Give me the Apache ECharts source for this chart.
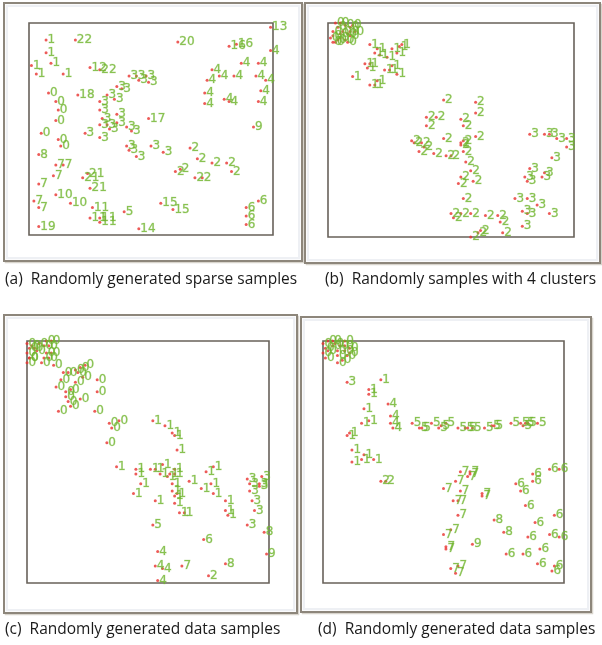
<!DOCTYPE html>
<html><head><meta charset="utf-8">
<script src="https://cdn.jsdelivr.net/npm/echarts@6/dist/echarts.min.js"></script>
<style>html,body{margin:0;padding:0;background:#fff}#c{width:602px;height:645px}</style>
</head><body><div id="c"></div>
<script>
// Panel (a): [x, y, cluster label]
const panelA = [
 [7,92,'1'],[7,86,'1'],[1,80,'1'],[9,81,'1'],[3,76,'1'],[14,76,'1'],
 [19,92,'22'],[25,79,'12'],[29,78,'22'],[61,91,'20'],[99,98,'13'],[82,89,'16'],[85,90,'16'],
 [99,87,'4'],[75,78,'4'],[87,81,'4'],[94,81,'4'],[73,73,'4'],[78,75,'4'],[84,75,'4'],[93,75,'4'],[97,73,'4'],
 [72,67,'4'],[95,68,'4'],[72,62,'4'],[80,64,'4'],[82,63,'4'],[94,63,'4'],
 [92,51,'9'],
 [8,67,'0'],[11,63,'0'],[12,59,'0'],[11,54,'0'],[5,48,'0'],[12,45,'0'],[13,42,'0'],
 [20,66,'18'],[49,55,'17'],[4,38,'8'],
 [11,33,'7'],[14,33,'7'],[10,28,'7'],[4,24,'7'],[2,16,'7'],[4,13,'7'],
 [11,19,'10'],[17,15,'10'],[24,29,'21'],[22,27,'21'],[25,22,'21'],
 [26,13,'11'],[25,8,'11'],[29,8,'11'],[29,6,'11'],
 [39,11,'5'],[54,15,'15'],[59,12,'15'],[45,3,'14'],[4,4,'19'],
 [89,13,'6'],[94,16,'6'],[89,9,'6'],[89,5,'6'],
 [41,75,'3'],[44,75,'3'],[45,73,'3'],[48,75,'3'],[49,72,'3'],[36,70,'3'],[38,69,'3'],[32,66,'3'],[35,64,'3'],
 [29,63,'3'],[29,59,'3'],[36,57,'3'],[30,55,'3'],[29,52,'3'],[32,52,'3'],[33,50,'3'],[36,53,'3'],[40,51,'3'],
 [42,49,'3'],[23,48,'3'],[29,46,'3'],[40,42,'3'],[41,40,'3'],[44,37,'3'],[50,42,'3'],[55,39,'3'],
 [66,41,'2'],[69,36,'2'],[75,34,'2'],[81,34,'2'],[83,30,'2'],[60,30,'2'],[62,31,'2'],[68,27,'2'],[71,27,'2']
];
// Panel (b)
const panelB = [
 [1,93,'0'],[2,91,'0'],[3,91,'0'],[4,92,'0'],[4,98,'0'],[5,95,'0'],[5,93,'0'],[6,96,'0'],[7,92,'0'],[7,99,'0'],
 [8,95,'0'],[9,98,'0'],[9,94,'0'],[10,99,'0'],[8,91,'0'],[5,100,'0'],[2,96,'0'],[2,94,'0'],[3,100,'0'],[9,96,'0'],[11,96,'0'],
 [17,90,'1'],[19,86,'1'],[21,85,'1'],[20,88,'1'],[24,84,'1'],[28,86,'1'],[29,89,'1'],[30,90,'1'],[26,88,'1'],
 [15,81,'1'],[16,79,'1'],[17,81,'1'],[23,78,'1'],[25,78,'1'],[26,80,'1'],[28,76,'1'],[10,75,'1'],[17,71,'1'],[19,71,'1'],[20,73,'1'],
 [47,64,'2'],[60,63,'2'],[60,58,'2'],[40,56,'2'],[44,56,'2'],[40,52,'2'],[54,55,'2'],[55,52,'2'],[47,46,'2'],[60,47,'2'],
 [34,45,'2'],[35,44,'2'],[38,44,'2'],[37,40,'2'],[39,42,'2'],[43,39,'2'],[48,38,'2'],[50,38,'2'],[54,44,'2'],[54,43,'2'],
 [55,45,'2'],[55,40,'2'],[56,35,'2'],[58,31,'2'],[59,26,'2'],[53,25,'2'],[54,28,'2'],[55,18,'2'],[50,11,'2'],[51,9,'2'],
 [54,11,'2'],[58,11,'2'],[64,10,'2'],[69,10,'2'],[70,7,'2'],[71,2,'2'],[61,2,'2'],[62,3,'2'],[58,0,'2'],
 [82,48,'3'],[88,48,'3'],[90,48,'3'],[93,46,'3'],[97,46,'3'],[97,42,'3'],[91,37,'3'],[82,32,'3'],[88,30,'3'],[80,28,'3'],
 [81,26,'3'],[87,28,'3'],[76,18,'3'],[81,18,'3'],[85,15,'3'],[79,12,'3'],[81,11,'3'],[90,11,'3'],[79,5,'3']
];
// Panel (c)
const panelC = [
 [0,99,'0'],[1,97,'0'],[0,95,'0'],[1,93,'0'],[0,91,'0'],[2,98,'0'],[3,97,'0'],[4,96,'0'],[6,91,'0'],[5,99,'0'],
 [7,98,'0'],[7,93,'0'],[8,95,'0'],[9,98,'0'],[10,100,'0'],[9,93,'0'],[10,95,'0'],[11,90,'0'],[8,100,'0'],[1,93,'0'],
 [14,84,'0'],[12,81,'0'],[15,87,'0'],[16,79,'0'],[17,87,'0'],[18,80,'0'],[20,88,'0'],[20,83,'0'],[21,87,'0'],[22,76,'0'],
 [23,85,'0'],[24,90,'0'],[18,73,'0'],[13,71,'0'],[29,84,'0'],[29,79,'0'],[28,71,'0'],[34,66,'0'],[38,67,'0'],[35,64,'0'],
 [33,58,'0'],[16,77,'0'],[17,75,'0'],[22,89,'0'],
 [52,67,'1'],[57,65,'1'],[60,62,'1'],[61,61,'1'],[62,55,'1'],[37,48,'1'],[45,47,'1'],[45,45,'1'],[51,47,'1'],[53,47,'1'],
 [55,45,'1'],[56,49,'1'],[61,47,'1'],[58,44,'1'],[59,45,'1'],[61,45,'1'],[60,41,'1'],[60,38,'1'],[61,36,'1'],[62,37,'1'],
 [61,33,'1'],[53,34,'1'],[67,42,'1'],[74,46,'1'],[77,48,'1'],[72,39,'1'],[76,41,'1'],[77,37,'1'],[44,37,'1'],[47,41,'1'],
 [63,29,'1'],[65,29,'1'],[82,34,'1'],[82,30,'1'],[83,28,'1'],
 [91,43,'3'],[97,44,'3'],[92,41,'3'],[96,41,'3'],[96,40,'3'],[92,38,'3'],[93,34,'3'],[94,30,'3'],[91,24,'3'],
 [98,21,'8'],[99,12,'9'],[52,24,'5'],[73,18,'6'],
 [54,13,'4'],[53,7,'4'],[56,6,'4'],[54,1,'4'],[64,7,'7'],[75,3,'2'],[82,8,'8']
];
// Panel (d)
const panelD = [
 [0,99,'0'],[1,97,'0'],[0,95,'0'],[1,93,'0'],[2,100,'0'],[2,96,'0'],[4,98,'0'],[4,100,'0'],[5,99,'0'],[6,94,'0'],
 [6,96,'0'],[7,98,'0'],[8,92,'0'],[9,100,'0'],[9,96,'0'],[10,94,'0'],[11,97,'0'],[6,91,'0'],[9,98,'0'],[11,95,'0'],
 [10,83,'3'],
 [24,84,'1'],[19,80,'1'],[19,78,'1'],[17,72,'1'],[16,66,'1'],[19,67,'1'],[10,61,'1'],[11,62,'1'],[12,55,'1'],[12,50,'1'],
 [16,51,'1'],[17,53,'1'],[21,51,'1'],
 [27,74,'4'],[28,69,'4'],[28,66,'4'],[29,64,'4'],
 [37,66,'5'],[40,64,'5'],[41,64,'5'],[45,66,'5'],[48,64,'5'],[51,66,'5'],[49,65,'5'],[56,64,'5'],[59,64,'5'],[60,64,'5'],
 [62,64,'5'],[67,64,'5'],[70,65,'5'],[71,65,'5'],[78,66,'5'],[82,66,'5'],[83,65,'5'],[84,66,'5'],[85,66,'5'],[89,66,'5'],
 [24,42,'2'],[26,42,'2'],
 [57,46,'7'],[55,42,'7'],[50,39,'7'],[60,44,'7'],[61,45,'7'],[61,46,'7'],[57,38,'7'],[54,34,'7'],[56,34,'7'],[66,36,'7'],
 [66,37,'7'],[56,28,'7'],[50,20,'7'],[53,22,'7'],[51,14,'7'],[51,15,'7'],[53,6,'7'],[55,4,'7'],[56,7,'7'],
 [71,26,'8'],[75,21,'8'],[62,16,'9'],
 [87,45,'6'],[87,42,'6'],[80,41,'6'],[82,38,'6'],[94,47,'6'],[98,47,'6'],[84,32,'6'],[88,25,'6'],[96,28,'6'],[85,19,'6'],
 [94,20,'6'],[98,19,'6'],[76,12,'6'],[83,12,'6'],[90,14,'6'],[89,8,'6'],[95,5,'6'],[96,7,'6']
];
const captions = [
 '(a)  Randomly generated sparse samples',
 '(b)  Randomly samples with 4 clusters',
 '(c)  Randomly generated data samples',
 '(d)  Randomly generated data samples'
];

const chart = echarts.init(document.getElementById('c'), null, {renderer:'canvas'});
const plots = [
 {left:29, top:23, width:244, height:212},
 {left:328, top:23, width:246, height:214},
 {left:27, top:341, width:242, height:242},
 {left:323, top:341, width:241, height:242}
];
const frames = [
 {x:4, y:3, w:298, h:258},
 {x:305, y:3, w:295, h:260},
 {x:4, y:315, w:293, h:298},
 {x:301, y:317, w:290, h:295}
];
const capPos = [[5,272],[325,272],[5,622],[318,622]];
const datasets = [panelA, panelB, panelC, panelD];

const graphic = [];
frames.forEach(f => {
  graphic.push({type:'rect', shape:{x:f.x+1.5, y:f.y+1.5, width:f.w, height:f.h}, style:{fill:'none', stroke:'#d8d4cc', lineWidth:1.5}, z:-3});
  graphic.push({type:'rect', shape:{x:f.x, y:f.y, width:f.w, height:f.h}, style:{fill:'#fbfbfc', stroke:'#8d867b', lineWidth:2}, z:-2});
  graphic.push({type:'rect', shape:{x:f.x+3, y:f.y+3, width:f.w-6, height:f.h-6}, style:{fill:'#ffffff', stroke:'#eef0f4', lineWidth:2}, z:-1});
});

const option = {
  animation:false,
  backgroundColor:'#ffffff',
  graphic: graphic,
  title: captions.map((t,i)=>({text:t, left:capPos[i][0], top:capPos[i][1], padding:0,
    textStyle:{fontFamily:'Open Sans', fontSize:15.5, fontWeight:'normal', color:'#1a1a1a'}})),
  grid: plots.map(p=>({left:p.left, top:p.top, width:p.width, height:p.height, show:true,
    borderColor:'#68625a', borderWidth:1.6, backgroundColor:'#ffffff', containLabel:false})),
  xAxis: plots.map((p,i)=>({type:'value', gridIndex:i, min:0, max:100, show:false})),
  yAxis: plots.map((p,i)=>({type:'value', gridIndex:i, min:0, max:100, show:false})),
  series: datasets.map((d,i)=>({
    type:'scatter', xAxisIndex:i, yAxisIndex:i, data:d, symbol:'circle', symbolSize:3, clip:false,
    itemStyle:{color:'#e8322e'},
    label:{show:true, position:'right', distance:0, offset:[0,-4], formatter:(p)=>p.value[2],
      color:'#70b52e', fontSize:12, fontFamily:'DejaVu Sans',
      textBorderColor:'rgba(112,181,46,0.45)', textBorderWidth:0.7},
    labelLayout:{hideOverlap:false},
    z:3
  }))
};
chart.setOption(option);
</script></body></html>
